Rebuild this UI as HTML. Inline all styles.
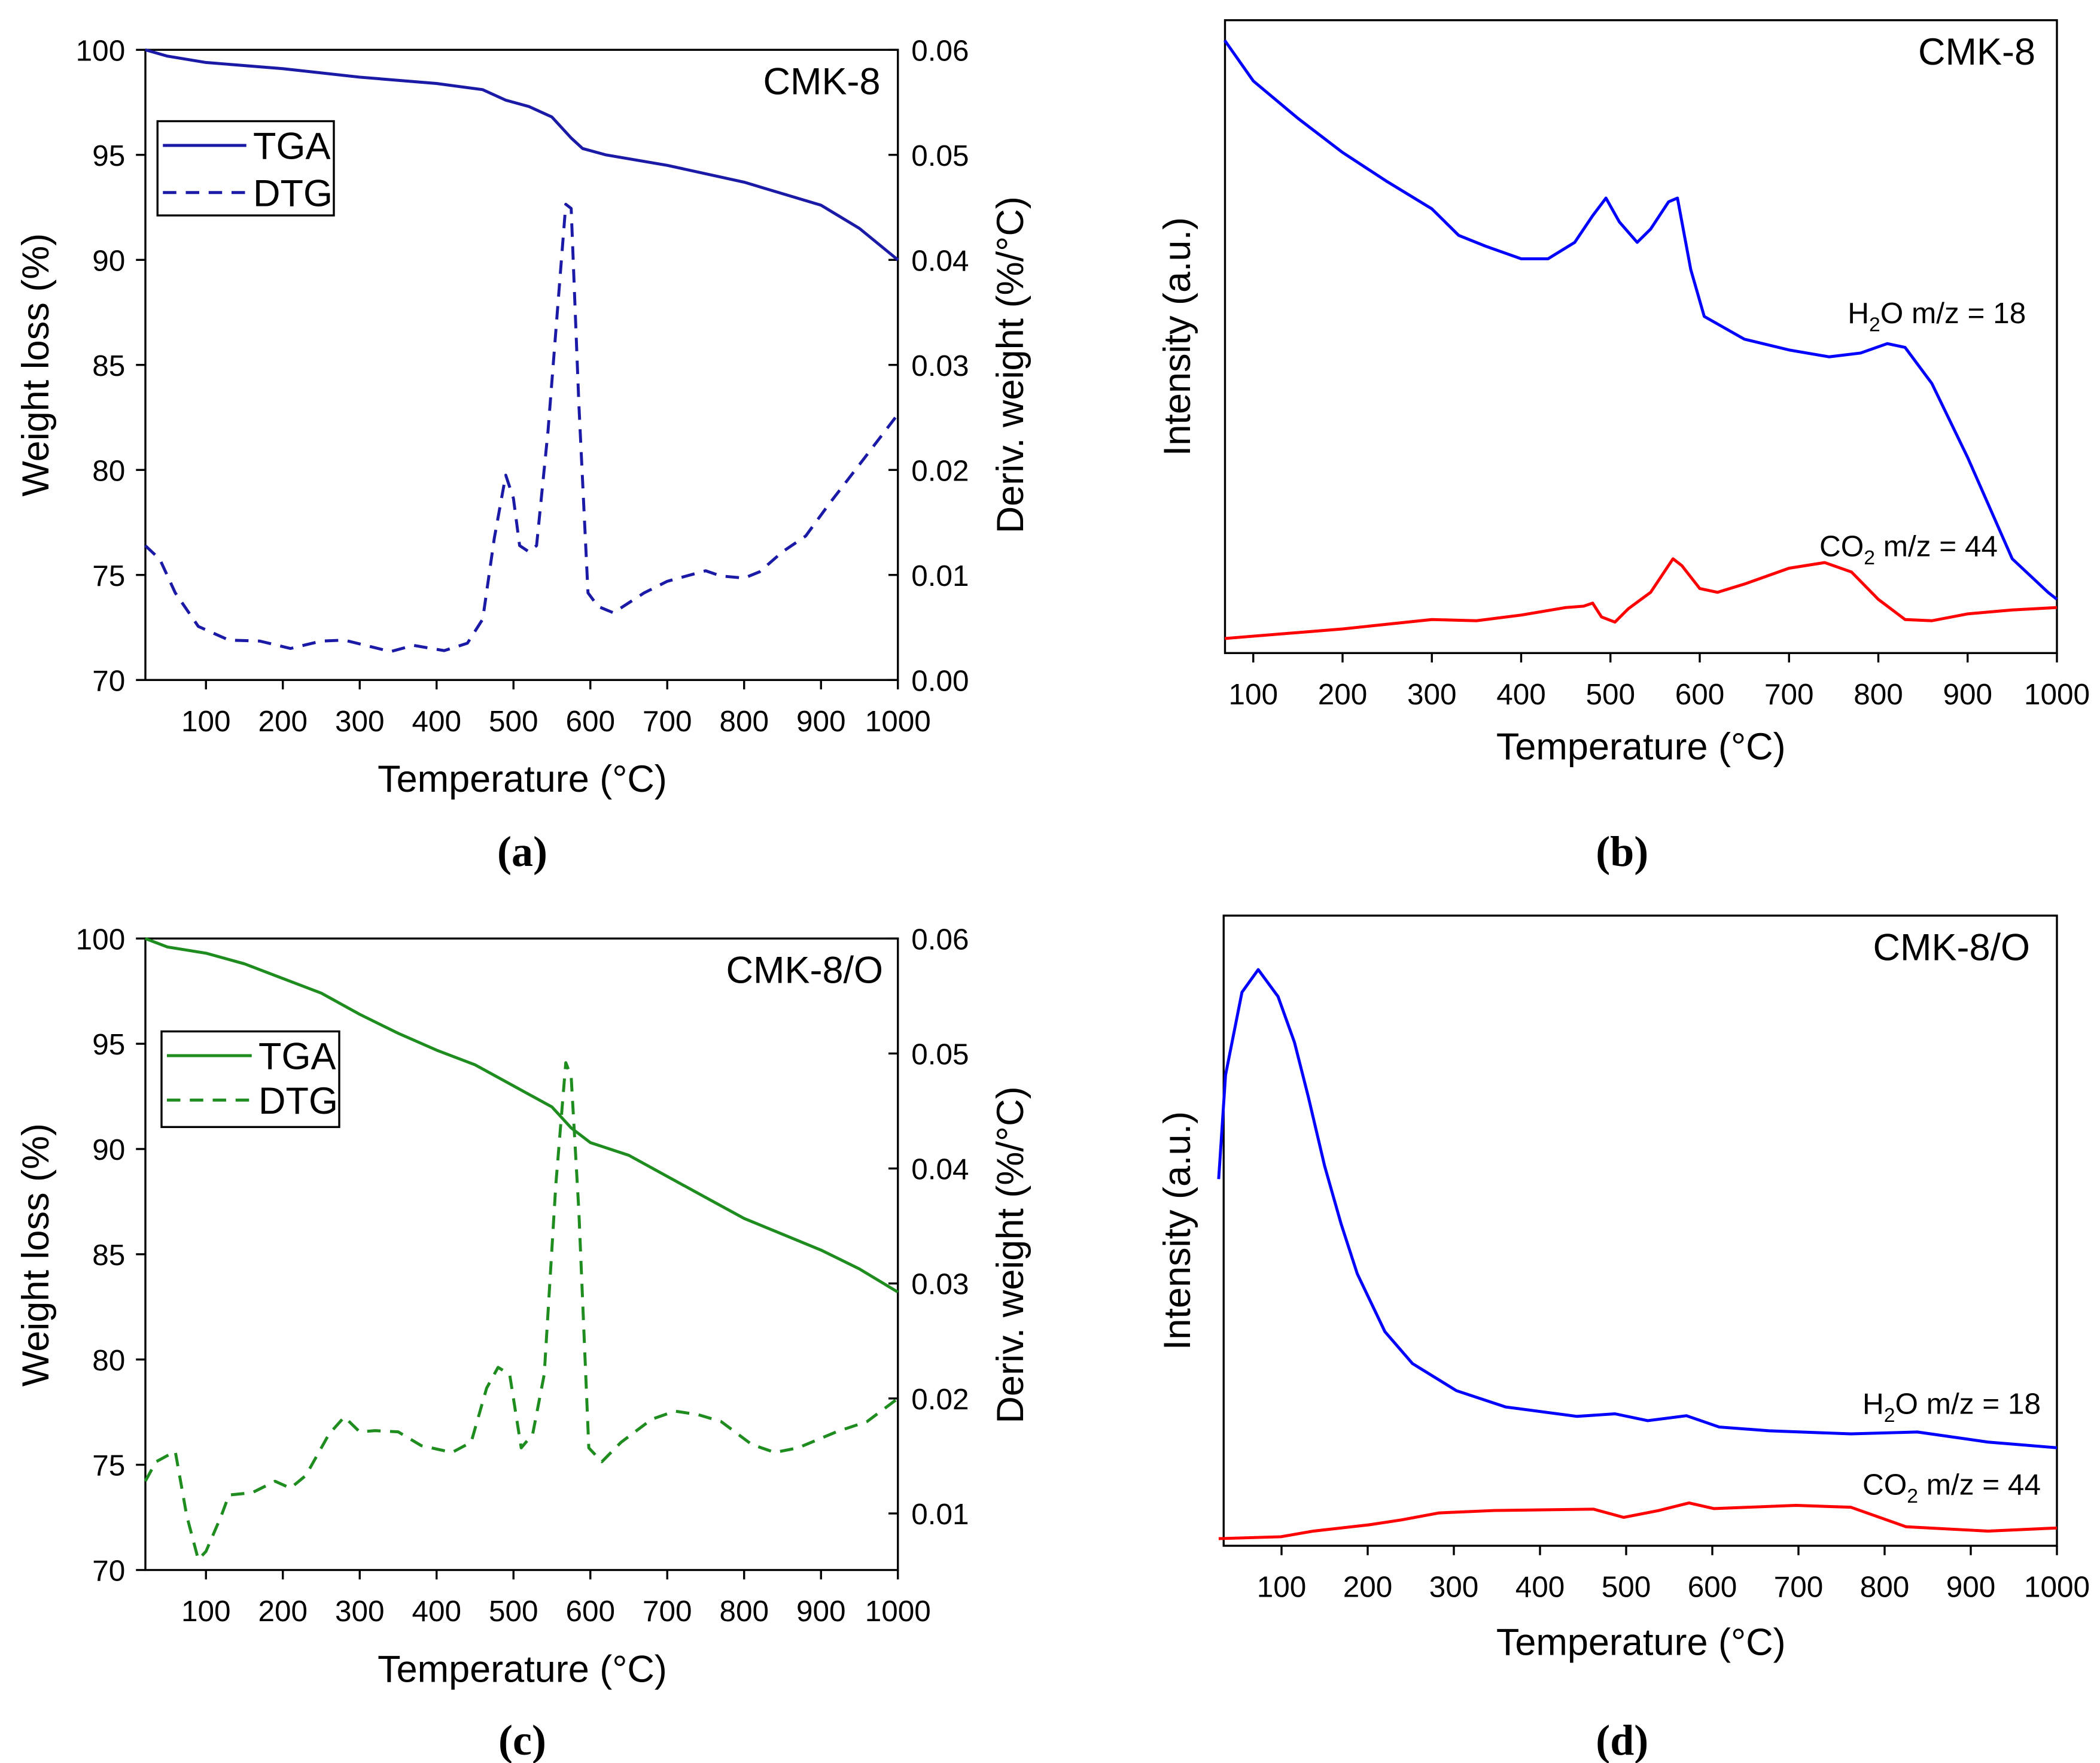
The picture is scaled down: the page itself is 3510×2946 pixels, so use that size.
<!DOCTYPE html>
<html><head><meta charset="utf-8"><style>
html,body{margin:0;padding:0;background:#fff}
svg{display:block}
text{font-family:"Liberation Sans","DejaVu Sans",sans-serif;fill:#000}
.tick{font-size:22px}
.title{font-size:28px}
.lab{font-size:32px;font-family:"Liberation Serif",serif;font-weight:bold}
</style></head><body>
<svg id="c" width="3510" height="2946" viewBox="0 0 1560 1309.33" xmlns="http://www.w3.org/2000/svg"></svg>
<script>
// ---- data ----
const aTgaX=[21,50,100,200,300,400,460,490,520,550,575,590,620,700,800,900,950,1000];
const aTgaY=[100,99.7,99.4,99.1,98.7,98.4,98.1,97.6,97.3,96.8,95.8,95.3,95.0,94.5,93.7,92.6,91.5,90.0];
const aDtgX=[21,40,60,90,130,170,210,250,280,340,370,410,440,460,475,490,500,508,520,530,545,560,568,575,585,597,610,630,670,700,730,750,770,800,820,850,880,910,950,1000];
const aDtgY=[0.0128,0.0115,0.0083,0.0051,0.0038,0.0037,0.0030,0.0037,0.0038,0.0027,0.0033,0.0028,0.0035,0.0058,0.0135,0.0195,0.0173,0.0128,0.0122,0.0128,0.0237,0.0378,0.0453,0.0449,0.0263,0.0083,0.0070,0.0064,0.0083,0.0094,0.0100,0.0104,0.0099,0.0097,0.0103,0.0122,0.0137,0.0167,0.0205,0.0253];
const bH2oX=[68,100,150,200,250,300,330,360,400,430,460,480,495,510,530,545,565,575,590,605,650,700,745,780,810,830,860,900,950,990,1000];
const bH2oY=[96.8,90.4,84.5,79.1,74.5,70.2,66.0,64.3,62.3,62.3,64.9,69.1,71.9,68.1,64.9,67.0,71.3,71.9,60.6,53.2,49.6,47.9,46.8,47.4,48.9,48.3,42.6,30.9,14.9,9.6,8.5];
const bCo2X=[68,200,300,350,400,450,470,480,490,505,520,545,570,580,600,620,650,700,740,770,800,830,860,900,950,1000];
const bCo2Y=[2.3,3.8,5.3,5.1,6.0,7.2,7.4,7.9,5.7,4.9,7.0,9.6,14.9,13.8,10.2,9.6,10.9,13.4,14.3,12.8,8.5,5.3,5.1,6.2,6.8,7.2];
const cTgaX=[21,50,100,150,200,250,300,350,400,450,500,550,575,600,650,700,750,800,900,950,1000];
const cTgaY=[100,99.6,99.3,98.8,98.1,97.4,96.4,95.5,94.7,94.0,93.0,92.0,91.0,90.3,89.7,88.7,87.7,86.7,85.2,84.3,83.2];
const cDtgX=[21,35,60,75,90,100,120,130,160,190,210,230,260,280,300,320,350,380,420,445,465,480,495,510,525,540,555,568,575,585,598,615,640,680,710,740,770,810,840,870,920,960,1000];
const cDtgY=[0.0128,0.0145,0.0154,0.0098,0.0060,0.0067,0.0098,0.0116,0.0118,0.0128,0.0122,0.0133,0.0169,0.0184,0.0171,0.0172,0.0171,0.0159,0.0153,0.0162,0.0209,0.0227,0.0221,0.0157,0.0169,0.0221,0.0386,0.0492,0.0480,0.0363,0.0157,0.0145,0.0162,0.0182,0.0189,0.0186,0.0180,0.0160,0.0153,0.0157,0.0171,0.0180,0.0200];
const dH2oX=[27,35,54,73,96,115,131,150,169,188,220,252,303,360,443,487,525,570,608,666,761,838,920,1000];
const dH2oY=[58,74.6,87.8,91.4,87.1,79.8,71.2,60.1,50.9,42.9,33.7,28.6,24.3,21.7,20.2,20.6,19.5,20.3,18.5,17.9,17.4,17.7,16.1,15.2];
const dCo2X=[27,99,137,201,239,283,347,462,497,538,573,602,697,761,825,920,1000];
const dCo2Y=[0.7,1.0,1.9,2.9,3.7,4.8,5.2,5.4,4.1,5.2,6.4,5.5,6.0,5.7,2.6,1.9,2.4];
const xTicksA=[100,200,300,400,500,600,700,800,900,1000];
const yTicksL=[70,75,80,85,90,95,100];
const yTicksRa=["0.00","0.01","0.02","0.03","0.04","0.05","0.06"];
const yTicksRc=["0.01","0.02","0.03","0.04","0.05","0.06"];

const svg=document.getElementById('c');
const NS='http://www.w3.org/2000/svg';
function el(tag,attrs,parent){const e=document.createElementNS(NS,tag);for(const k in attrs)e.setAttribute(k,attrs[k]);(parent||svg).appendChild(e);return e;}
function txt(s,attrs,cls,name){const t=el('text',attrs);t.setAttribute('class',cls);t.textContent=s;


return t;}
function lin(d0,d1,p0,p1){return v=>p0+(v-d0)/(d1-d0)*(p1-p0);}
function path(xs,ys,fx,fy,color,dash,name){let d='';xs.forEach((x,i)=>{d+=(i?'L':'M')+fx(x).toFixed(1)+','+fy(ys[i]).toFixed(1);});
const p=el('path',{d:d,fill:'none',stroke:color,'stroke-width':2.2,'stroke-linejoin':'round'});if(dash)p.setAttribute('stroke-dasharray',dash);

}
function frame(x0,y0,x1,y1,name){const r=el('rect',{x:x0,y:y0,width:x1-x0,height:y1-y0,fill:'none',stroke:'#000','stroke-width':1.5});

}
function xaxis(fx,y,ticks,name){ticks.forEach(v=>{el('line',{x1:fx(v),x2:fx(v),y1:y,y2:y+7,stroke:'#000','stroke-width':1.5});
txt(String(v),{x:fx(v),y:y+38,'text-anchor':'middle'},'tick',name+'-tick');});}

// ---- panel a ----
{const fx=lin(100,1000,153,667),fy=lin(70,100,505,37),fr=lin(0,0.06,505,37);
frame(108,37,667,505,'plot-area-a');xaxis(fx,505,xTicksA,'x-axis-a');
yTicksL.forEach(v=>{el('line',{x1:101,x2:108,y1:fy(v),y2:fy(v),stroke:'#000','stroke-width':1.5});txt(String(v),{x:93,y:fy(v)+8,'text-anchor':'end'},'tick','y-left-tick-a');});
yTicksRa.forEach(v=>{el('line',{x1:667,x2:660,y1:fr(+v),y2:fr(+v),stroke:'#000','stroke-width':1.5});txt(v,{x:677,y:fr(+v)+8},'tick','y-right-tick-a');});
path(aTgaX,aTgaY,fx,fy,'#1a1aa6','', 'tga-line-a');path(aDtgX,aDtgY,fx,fr,'#1a1aa6','10,7','dtg-line-a');
txt('Temperature (°C)',{x:388,y:588,'text-anchor':'middle'},'title','x-axis-title-a');
txt('Weight loss (%)',{x:0,y:0,transform:'translate(36,271) rotate(-90)','text-anchor':'middle'},'title','y-axis-title-a');
txt('Deriv. weight (%/°C)',{x:0,y:0,transform:'translate(760,271) rotate(-90)','text-anchor':'middle'},'title','y2-axis-title-a');
txt('CMK-8',{x:654,y:70,'text-anchor':'end'},'title','sample-label-a');
frame(117,90,248,160,'legend-a');
el('line',{x1:121,x2:183,y1:108,y2:108,stroke:'#1a1aa6','stroke-width':2.2});txt('TGA',{x:188,y:118},'title','legend-tga-a');
el('line',{x1:121,x2:183,y1:143,y2:143,stroke:'#1a1aa6','stroke-width':2.2,'stroke-dasharray':'10,7'});txt('DTG',{x:188,y:153},'title','legend-dtg-a');
txt('(a)',{x:388,y:643,'text-anchor':'middle'},'lab','panel-label-a');}

// ---- panel b ----
{const fx=lin(100,1000,931,1528),fy=lin(0,100,485,15);
frame(910,15,1528,485,'plot-area-b');xaxis(fx,485,xTicksA,'x-axis-b');
path(bH2oX,bH2oY,fx,fy,'#0000ff','','h2o-line-b');path(bCo2X,bCo2Y,fx,fy,'#ff0000','','co2-line-b');
txt('Temperature (°C)',{x:1219,y:564,'text-anchor':'middle'},'title','x-axis-title-b');
txt('Intensity (a.u.)',{x:0,y:0,transform:'translate(884,250) rotate(-90)','text-anchor':'middle'},'title','y-axis-title-b');
txt('CMK-8',{x:1512,y:48,'text-anchor':'end'},'title','sample-label-b');
const t1=txt('',{x:1505,y:240,'text-anchor':'end',style:'font-size:22px'},'tick','h2o-label-b');t1.innerHTML='H<tspan dy="6" font-size="15">2</tspan><tspan dy="-6">O m/z = 18</tspan>';
const t2=txt('',{x:1484,y:413,'text-anchor':'end',style:'font-size:22px'},'tick','co2-label-b');t2.innerHTML='CO<tspan dy="6" font-size="15">2</tspan><tspan dy="-6"> m/z = 44</tspan>';
txt('(b)',{x:1205,y:643,'text-anchor':'middle'},'lab','panel-label-b');}

// ---- panel c ----
{const fx=lin(100,1000,153,667),fy=lin(70,100,1166,697),fr=lin(0.01,0.06,1124,697);
frame(108,697,667,1166,'plot-area-c');xaxis(fx,1166,xTicksA,'x-axis-c');
yTicksL.forEach(v=>{el('line',{x1:101,x2:108,y1:fy(v),y2:fy(v),stroke:'#000','stroke-width':1.5});txt(String(v),{x:93,y:fy(v)+8,'text-anchor':'end'},'tick','y-left-tick-c');});
yTicksRc.forEach(v=>{el('line',{x1:667,x2:660,y1:fr(+v),y2:fr(+v),stroke:'#000','stroke-width':1.5});txt(v,{x:677,y:fr(+v)+8},'tick','y-right-tick-c');});
path(cTgaX,cTgaY,fx,fy,'#1e8c1e','','tga-line-c');path(cDtgX,cDtgY,fx,fr,'#1e8c1e','10,7','dtg-line-c');
txt('Temperature (°C)',{x:388,y:1249,'text-anchor':'middle'},'title','x-axis-title-c');
txt('Weight loss (%)',{x:0,y:0,transform:'translate(36,932) rotate(-90)','text-anchor':'middle'},'title','y-axis-title-c');
txt('Deriv. weight (%/°C)',{x:0,y:0,transform:'translate(760,932) rotate(-90)','text-anchor':'middle'},'title','y2-axis-title-c');
txt('CMK-8/O',{x:656,y:730,'text-anchor':'end'},'title','sample-label-c');
frame(120,766,252,837,'legend-c');
el('line',{x1:124,x2:187,y1:784,y2:784,stroke:'#1e8c1e','stroke-width':2.2});txt('TGA',{x:192,y:794},'title','legend-tga-c');
el('line',{x1:124,x2:187,y1:817,y2:817,stroke:'#1e8c1e','stroke-width':2.2,'stroke-dasharray':'10,7'});txt('DTG',{x:192,y:827},'title','legend-dtg-c');
txt('(c)',{x:388,y:1303,'text-anchor':'middle'},'lab','panel-label-c');}

// ---- panel d ----
{const fx=lin(100,1000,952,1528),fy=lin(0,100,1146,680);
frame(909,680,1528,1148,'plot-area-d');xaxis(fx,1148,xTicksA,'x-axis-d');
path(dH2oX,dH2oY,fx,fy,'#0000ff','','h2o-line-d');path(dCo2X,dCo2Y,fx,fy,'#ff0000','','co2-line-d');
txt('Temperature (°C)',{x:1219,y:1229,'text-anchor':'middle'},'title','x-axis-title-d');
txt('Intensity (a.u.)',{x:0,y:0,transform:'translate(884,914) rotate(-90)','text-anchor':'middle'},'title','y-axis-title-d');
txt('CMK-8/O',{x:1508,y:713,'text-anchor':'end'},'title','sample-label-d');
const t1=txt('',{x:1516,y:1050,'text-anchor':'end',style:'font-size:22px'},'tick','h2o-label-d');t1.innerHTML='H<tspan dy="6" font-size="15">2</tspan><tspan dy="-6">O m/z = 18</tspan>';
const t2=txt('',{x:1516,y:1110,'text-anchor':'end',style:'font-size:22px'},'tick','co2-label-d');t2.innerHTML='CO<tspan dy="6" font-size="15">2</tspan><tspan dy="-6"> m/z = 44</tspan>';
txt('(d)',{x:1205,y:1303,'text-anchor':'middle'},'lab','panel-label-d');}
</script>
</body></html>
